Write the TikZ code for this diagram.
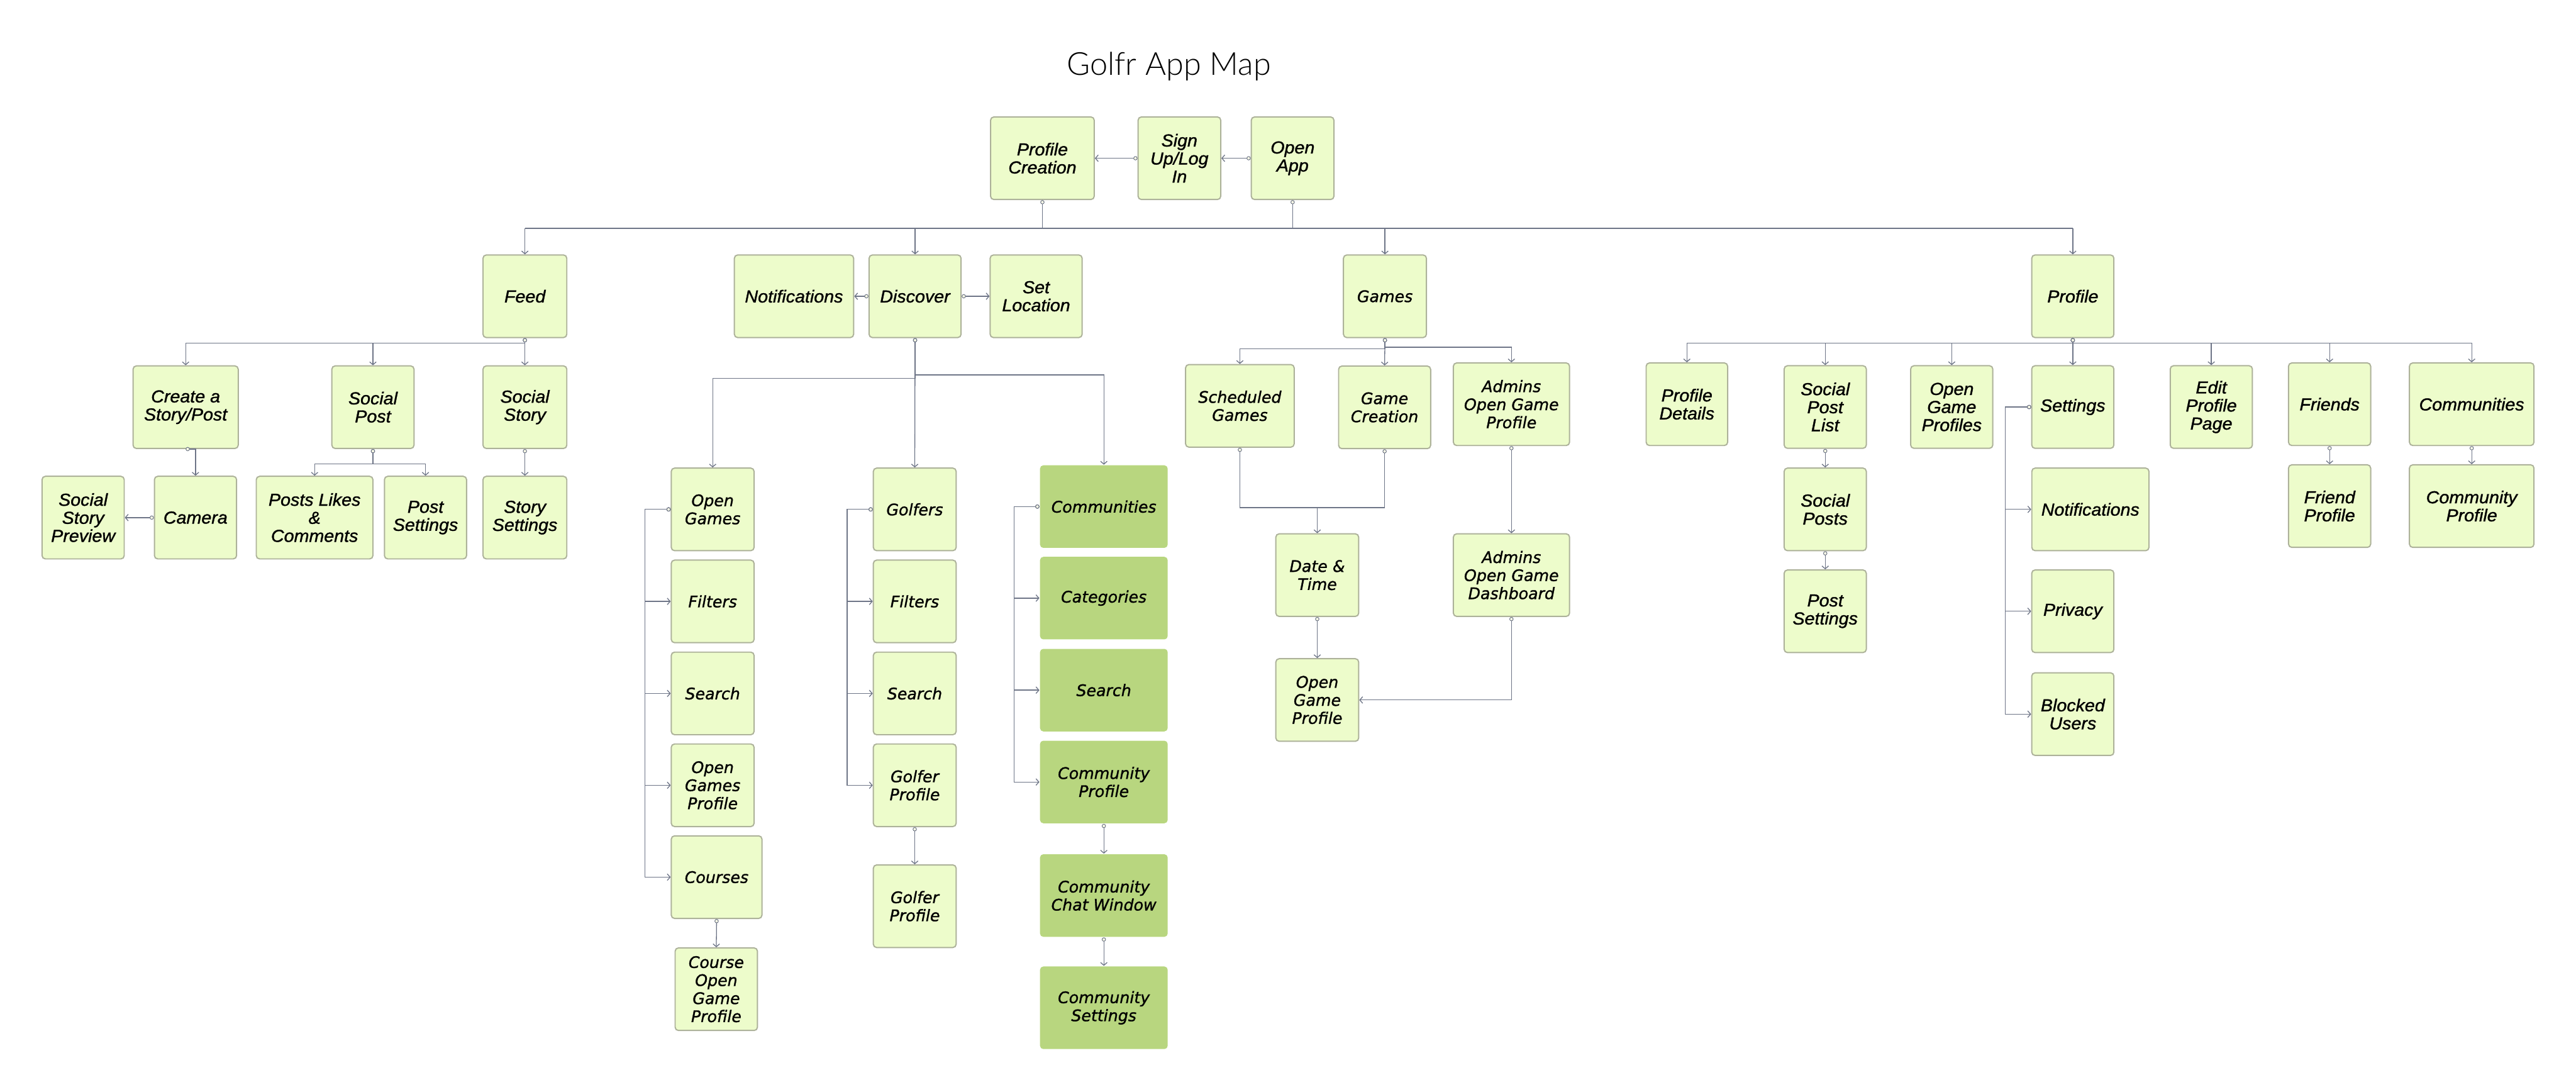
\documentclass[tikz,border=0pt]{standalone}
\usepackage{fontspec}
\usetikzlibrary{arrows.meta}
\setmainfont{Liberation Sans}
\newfontfamily\narrowfont[FakeStretch=1.04, FakeBold=1.2]{Liberation Sans}
\newfontfamily\widefont[FakeBold=1.2]{DejaVu Sans}
\newfontfamily\titlefont{Lato Light}
\newcommand\narrowit{\narrowfont\itshape\fontsize{12}{12.5}\selectfont}
\newcommand\wideit{\widefont\itshape\fontsize{11}{12.5}\selectfont}
\definecolor{boxfill}{HTML}{EDFCCB}
\definecolor{boxline}{HTML}{ADB29A}
\definecolor{darkfill}{HTML}{B8D67F}
\definecolor{linkgray}{HTML}{6E7587}
\definecolor{dotfill}{HTML}{FBFDE8}
\begin{document}
\begin{tikzpicture}[x=0.4mm, y=-0.4mm,
  box/.style={draw=boxline, fill=boxfill, line width=0.3mm, rounded corners=0.8mm,
    minimum width=#1*0.4mm, minimum height=20.1mm, inner sep=1pt, align=center, font=\narrowit},
  box/.default=50,
  wbox/.style={box=#1, font=\wideit}, wbox/.default=50.4,
  gbox/.style={wbox=#1, fill=darkfill, draw=none},
  link/.style={draw=linkgray, line width=0.2mm,
    {Circle[fill=dotfill, length=1mm, width=1mm, line width=0.15mm]}-{Straight Barb[length=0.7mm, width=1.6mm]}},
  stub/.style={draw=linkgray, line width=0.2mm, {Circle[fill=dotfill, length=1mm, width=1mm, line width=0.15mm]}-},
  arr/.style={draw=linkgray, line width=0.2mm, -{Straight Barb[length=0.7mm, width=1.6mm]}},
  bus/.style={draw=linkgray, line width=0.25mm}]
  \useasboundingbox (0,0) rectangle (1568,664.4);
  \node[font=\titlefont\fontsize{22}{24}\selectfont, anchor=base] (title) at (711.5,45.7) {Golfr App Map};

  % entry
  \node[box=63.1] (pc) at (634.5,96.3) {Profile\\Creation};
  \node[box=50.3] (signup) at (717.9,96.3) {Sign\\Up/Log\\In};
  \node[box=50.3] (openapp) at (786.8,96.3) {Open\\App};
  \draw[link] (signup.west) -- (pc.east);
  \draw[link] (openapp.west) -- (signup.east);

  % main sections
  \coordinate (mainbus) at (0,139);
  \node[box=51] (feed) at (319.5,180.3) {Feed};
  \node[box=72.6] (notif) at (483.3,180.3) {Notifications};
  \node[box=56] (discover) at (557,180.3) {Discover};
  \node[box=56] (setloc) at (630.7,180.3) {Set\\Location};
  \node[wbox=50.5] (games) at (843,180.3) {Games};
  \node[box] (profile) at (1261.7,180.3) {Profile};
  \draw[stub] (pc.south) -- (pc.south |- mainbus);
  \draw[stub] (openapp.south) -- (openapp.south |- mainbus);
  \draw[bus] (feed.north |- mainbus) -- (profile.north |- mainbus);
  \foreach \n in {feed,discover,games,profile}
    \draw[arr] (\n.north |- mainbus) -- (\n.north);
  \draw[link] (discover.west) -- (notif.east);
  \draw[link] (discover.east) -- (setloc.west);

  % feed
  \node[box=64] (story) at (113,247.8) {Create a\\Story/Post};
  \node[box] (socpost) at (227,247.8) {Social\\Post};
  \node[box=51] (socstory) at (319.5,247.8) {Social\\Story};
  \node[box] (ssprev) at (50.6,315) {Social\\Story\\Preview};
  \node[box] (camera) at (119,315) {Camera};
  \node[box=71] (likes) at (191.5,315) {Posts Likes\\\&\\Comments};
  \node[box] (postset) at (259,315) {Post\\Settings};
  \node[box=51] (storyset) at (319.5,315) {Story\\Settings};
  \draw[link] (feed.south) -- ++(0,3) -| (story.north);
  \draw[link] (feed.south) -- ++(0,3) -| (socpost.north);
  \draw[link] (feed.south) -- (socstory.north);
  \draw[link] (story.south) -| (camera.north);
  \draw[link] (camera.west) -- (ssprev.east);
  \draw[link] (socpost.south) -- ++(0,9) -| (likes.north);
  \draw[link] (socpost.south) -- ++(0,9) -| (postset.north);
  \draw[link] (socstory.south) -- (storyset.north);

  % discover
  \node[wbox] (og) at (433.8,310) {Open\\Games};
  \node[wbox] (ogfilt) at (433.8,366) {Filters};
  \node[wbox] (ogsearch) at (433.8,422) {Search};
  \node[wbox] (ogprof) at (433.8,477.9) {Open\\Games\\Profile};
  \node[wbox=55.2] (courses) at (436.2,533.8) {Courses};
  \node[wbox=50.1] (courseog) at (436,602) {Course\\Open\\Game\\Profile};
  \node[wbox] (golfers) at (556.8,310) {Golfers};
  \node[wbox] (gfilt) at (556.8,366) {Filters};
  \node[wbox] (gsearch) at (556.8,422) {Search};
  \node[wbox] (gprof) at (556.8,477.9) {Golfer\\Profile};
  \node[wbox] (gprof2) at (556.8,551.5) {Golfer\\Profile};
  \node[gbox=77.7] (comm) at (671.9,308.3) {Communities};
  \node[gbox=77.7] (cat) at (671.9,364) {Categories};
  \node[gbox=77.7] (csearch) at (671.9,420) {Search};
  \node[gbox=77.7] (cprof) at (671.9,475.9) {Community\\Profile};
  \node[gbox=77.7] (chat) at (671.9,545) {Community\\Chat Window};
  \node[gbox=77.7] (cset) at (671.9,613.3) {Community\\Settings};
  \draw[link] (discover.south) -- ++(0,24.4) -| (og.north);
  \draw[link] (discover.south) -- (golfers.north);
  \draw[link] (discover.south) -- ++(0,22.4) -| (comm.north);
  \foreach \n in {ogfilt,ogsearch,ogprof,courses}
    \draw[link] (og.west) -- ++(-15.6,0) |- (\n.west);
  \foreach \n in {gfilt,gsearch,gprof}
    \draw[link] (golfers.west) -- ++(-15.6,0) |- (\n.west);
  \foreach \n in {cat,csearch,cprof}
    \draw[link] (comm.west) -- ++(-15.3,0) |- (\n.west);
  \draw[link] (courses.south) -- (courseog.north);
  \draw[link] (gprof.south) -- (gprof2.north);
  \draw[link] (cprof.south) -- (chat.north);
  \draw[link] (chat.south) -- (cset.north);

  % games
  \node[wbox=66.1] (sched) at (754.7,247) {Scheduled\\Games};
  \node[wbox=56] (gamecreate) at (842.8,247.9) {Game\\Creation};
  \node[wbox=70.7] (adminprof) at (920,246) {Admins\\Open Game\\Profile};
  \node[wbox] (datetime) at (801.8,350) {Date \&\\Time};
  \node[wbox] (ogprofile) at (801.8,426) {Open\\Game\\Profile};
  \node[wbox=70.7] (admindash) at (920,350) {Admins\\Open Game\\Dashboard};
  \draw[link] (games.south) -- ++(0,6.5) -| (sched.north);
  \draw[link] (games.south) -- (gamecreate.north);
  \draw[link] (games.south) -- ++(0,5.5) -| (adminprof.north);
  \draw[stub] (sched.south) |- ([yshift=6.24mm]datetime.north);
  \draw[stub] (gamecreate.south) |- ([yshift=6.24mm]datetime.north);
  \draw[arr] ([yshift=6.24mm]datetime.north) -- (datetime.north);
  \draw[link] (datetime.south) -- (ogprofile.north);
  \draw[link] (adminprof.south) -- (admindash.north);
  \draw[link] (admindash.south) |- (ogprofile.east);

  % profile
  \node[box=49.6] (profdetails) at (1026.8,246) {Profile\\Details};
  \node[box] (postlist) at (1111,247.7) {Social\\Post\\List};
  \node[box] (ogprofiles) at (1188,247.7) {Open\\Game\\Profiles};
  \node[box] (settings) at (1261.7,247.7) {Settings};
  \node[box] (editprof) at (1346,247.7) {Edit\\Profile\\Page};
  \node[box] (friends) at (1418,246) {Friends};
  \node[box=75.8] (pcomm) at (1504.5,246) {Communities};
  \node[box] (socposts) at (1111,310) {Social\\Posts};
  \node[box] (postset2) at (1111,372) {Post\\Settings};
  \node[box=71.3] (pnotif) at (1272.4,310) {Notifications};
  \node[box] (privacy) at (1261.7,372) {Privacy};
  \node[box] (blocked) at (1261.7,434.6) {Blocked\\Users};
  \node[box] (friendprof) at (1418,308) {Friend\\Profile};
  \node[box=75.8] (pcommprof) at (1504.5,308) {Community\\Profile};
  \foreach \n in {profdetails,postlist,ogprofiles,editprof,friends,pcomm}
    \draw[link] (profile.south) -- ++(0,3) -| (\n.north);
  \draw[link] (profile.south) -- (settings.north);
  \draw[link] (postlist.south) -- (socposts.north);
  \draw[link] (socposts.south) -- (postset2.north);
  \draw[link] (friends.south) -- (friendprof.north);
  \draw[link] (pcomm.south) -- (pcommprof.north);
  \foreach \n in {pnotif,privacy,blocked}
    \draw[link] (settings.west) -- ++(-15.7,0) |- (\n.west);
\end{tikzpicture}
\end{document}
